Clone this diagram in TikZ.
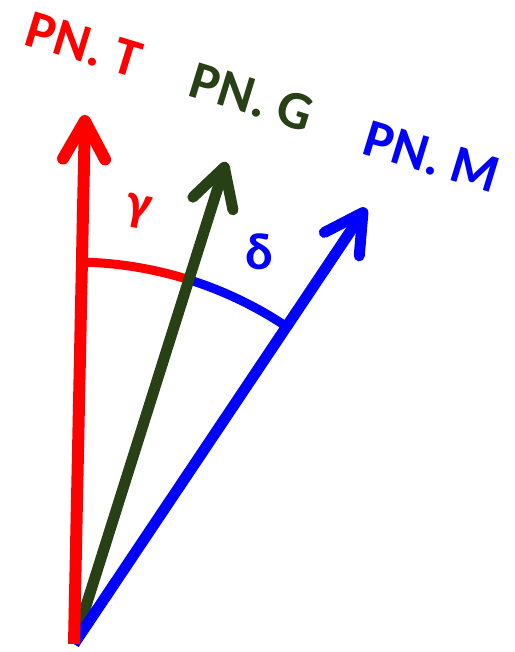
\documentclass[tikz,border=0pt]{standalone}
\usepackage{fontspec}
\setmainfont{Carlito}
\usetikzlibrary{arrows.meta}
\definecolor{pnred}{RGB}{255,0,0}
\definecolor{pngreen}{RGB}{40,64,22}
\definecolor{pnblue}{RGB}{0,0,255}
\tikzset{
  vec/.style={line width=11pt, -{Straight Barb[round,length=38pt,width=42pt]}},
  anglearc/.style={line width=9pt},
  pnlabel/.style={font=\fontsize{54}{54}\selectfont\bfseries, rotate=-17, inner sep=0pt},
  greek/.style={font=\fontsize{52}{52}\selectfont\bfseries, inner sep=0pt}
}
\begin{document}
\begin{tikzpicture}[x=1pt,y=1pt]
\useasboundingbox (0,0) rectangle (514,652);
\coordinate (o) at (74,8);
\coordinate (tipT) at (85,537);
\coordinate (tipG) at (226,490);
\coordinate (tipM) at (366,444);
% angle arcs
\draw[anglearc, pnred] (o) ++(88.6:382) arc[start angle=88.6, end angle=72.4, radius=382];
\draw[anglearc, pnblue] (o) ++(72.4:382) arc[start angle=72.4, end angle=56.4, radius=382];
% vectors
\draw[vec, pngreen] (o) -- (tipG);
\draw[vec, pnblue] (o) -- (tipM);
\draw[vec, pnred, line width=12pt] (o) -- (tipT);
% labels
\node[pnlabel, pnred] (lblT) at (84,607) {PN. T};
\node[pnlabel, pngreen] (lblG) at (252,555) {PN. G};
\node[pnlabel, pnblue] (lblM) at (432,495) {PN. M};
\node[greek, pnred, rotate=-12] (gamma) at (138,440) {γ};
\node[greek, pnblue] (delta) at (259,400) {δ};
\end{tikzpicture}
\end{document}
